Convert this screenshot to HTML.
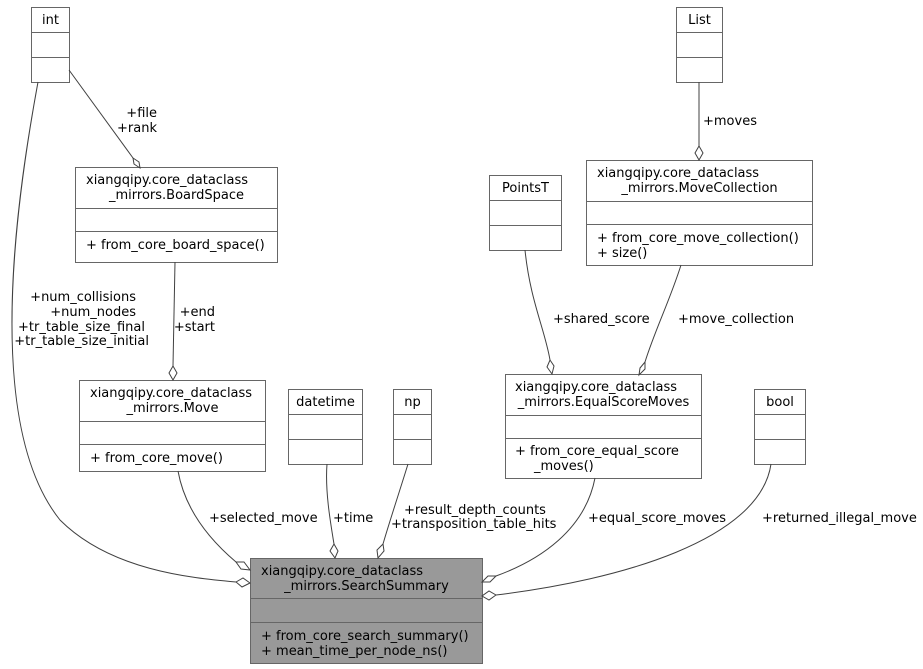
<!DOCTYPE html>
<html><head><meta charset="utf-8"><style>
html,body{margin:0;padding:0;background:#fff;}
svg{display:block;font-family:"DejaVu Sans","Liberation Sans",sans-serif;font-size:13px;}
</style></head><body>
<svg width="923" height="669" viewBox="0 0 923 669" xmlns="http://www.w3.org/2000/svg">
<g fill="#fff" stroke="#666" stroke-width="1">
<rect x="31.5" y="7.5" width="38" height="75"/><line x1="31.5" y1="32.5" x2="69.5" y2="32.5"/><line x1="31.5" y1="57.5" x2="69.5" y2="57.5"/>
<rect x="676.5" y="7.5" width="46" height="75"/><line x1="676.5" y1="32.5" x2="722.5" y2="32.5"/><line x1="676.5" y1="57.5" x2="722.5" y2="57.5"/>
<rect x="75.5" y="167.5" width="202" height="95"/><line x1="75.5" y1="208.5" x2="277.5" y2="208.5"/><line x1="75.5" y1="231.5" x2="277.5" y2="231.5"/>
<rect x="586.5" y="160.5" width="226" height="105"/><line x1="586.5" y1="201.5" x2="812.5" y2="201.5"/><line x1="586.5" y1="224.5" x2="812.5" y2="224.5"/>
<rect x="489.5" y="175.5" width="72" height="75"/><line x1="489.5" y1="200.5" x2="561.5" y2="200.5"/><line x1="489.5" y1="225.5" x2="561.5" y2="225.5"/>
<rect x="79.5" y="380.5" width="186" height="91"/><line x1="79.5" y1="421.5" x2="265.5" y2="421.5"/><line x1="79.5" y1="444.5" x2="265.5" y2="444.5"/>
<rect x="288.5" y="389.5" width="74" height="75"/><line x1="288.5" y1="414.5" x2="362.5" y2="414.5"/><line x1="288.5" y1="439.5" x2="362.5" y2="439.5"/>
<rect x="393.5" y="389.5" width="38" height="75"/><line x1="393.5" y1="414.5" x2="431.5" y2="414.5"/><line x1="393.5" y1="439.5" x2="431.5" y2="439.5"/>
<rect x="505.5" y="374.5" width="196" height="104"/><line x1="505.5" y1="415.5" x2="701.5" y2="415.5"/><line x1="505.5" y1="438.5" x2="701.5" y2="438.5"/>
<rect x="754.5" y="389.5" width="51" height="75"/><line x1="754.5" y1="414.5" x2="805.5" y2="414.5"/><line x1="754.5" y1="439.5" x2="805.5" y2="439.5"/>
<rect x="250.5" y="558.5" width="232" height="105" fill="#999"/><line x1="250.5" y1="598.5" x2="482.5" y2="598.5"/><line x1="250.5" y1="622.5" x2="482.5" y2="622.5"/>
</g>
<g fill="none" stroke="#404040" stroke-width="1">
<path d="M38,82 C20,180 -20,420 60,520 C110,570 190,578 236,582"/>
<path d="M69,70 L133,158"/>
<path d="M699,82 L699,146"/>
<path d="M175,262 L173,366"/>
<path d="M525,250 C530,300 545,330 550,360"/>
<path d="M681,265 C670,300 655,330 645,362"/>
<path d="M178,471 C185,510 210,540 236,562"/>
<path d="M327,464 C325,490 330,520 334,544"/>
<path d="M408,464 C400,490 390,520 383,544"/>
<path d="M595,478 C585,530 540,560 496,576"/>
<path d="M771,464 C760,540 620,580 496,595"/>
</g>
<g fill="#fff" stroke="#404040" stroke-width="1">
<polygon points="236,582 243,578 250,583 242,587"/>
<polygon points="236,562 244,562 250,570 241,569"/>
<polygon points="133,158 139,162 140,168 134,164"/>
<polygon points="699,146 703,153 699,160 695,153"/>
<polygon points="173,366 177,373 173,380 169,373"/>
<polygon points="550,360 554,366 552,374 547,367"/>
<polygon points="645,362 645,369 639,375 640,368"/>
<polygon points="334,544 338,551 335,558 330,551"/>
<polygon points="383,544 384,551 378,558 377,550"/>
<polygon points="496,576 490,582 482,582 488,576"/>
<polygon points="496,595 489,600 482,596 489,591"/>
</g>
<g fill="#000">
<text x="50.5" y="24" text-anchor="middle">int</text>
<text x="699.5" y="24" text-anchor="middle">List</text>
<text x="525.5" y="192" text-anchor="middle">PointsT</text>
<text x="325.5" y="406" text-anchor="middle">datetime</text>
<text x="412.5" y="406" text-anchor="middle">np</text>
<text x="780" y="406" text-anchor="middle">bool</text>
<text x="86" y="184">xiangqipy.core_dataclass</text>
<text x="176.5" y="199" text-anchor="middle">_mirrors.BoardSpace</text>
<text x="86" y="249">+ from_core_board_space()</text>
<text x="597" y="177">xiangqipy.core_dataclass</text>
<text x="699.5" y="192" text-anchor="middle">_mirrors.MoveCollection</text>
<text x="597" y="242">+ from_core_move_collection()</text>
<text x="597" y="257">+ size()</text>
<text x="90" y="397">xiangqipy.core_dataclass</text>
<text x="172.5" y="412" text-anchor="middle">_mirrors.Move</text>
<text x="90" y="462">+ from_core_move()</text>
<text x="515" y="391">xiangqipy.core_dataclass</text>
<text x="603.5" y="406" text-anchor="middle">_mirrors.EqualScoreMoves</text>
<text x="515" y="455">+ from_core_equal_score</text>
<text x="534" y="470">_moves()</text>
<text x="261" y="575">xiangqipy.core_dataclass</text>
<text x="366.5" y="590" text-anchor="middle">_mirrors.SearchSummary</text>
<text x="261" y="640">+ from_core_search_summary()</text>
<text x="261" y="655">+ mean_time_per_node_ns()</text>
<text x="157" y="117" text-anchor="end">+file</text>
<text x="157" y="132" text-anchor="end">+rank</text>
<text x="703" y="125">+moves</text>
<text x="215" y="316" text-anchor="end">+end</text>
<text x="215" y="331" text-anchor="end">+start</text>
<text x="136" y="301" text-anchor="end">+num_collisions</text>
<text x="136" y="316" text-anchor="end">+num_nodes</text>
<text x="145" y="331" text-anchor="end">+tr_table_size_final</text>
<text x="149" y="345" text-anchor="end">+tr_table_size_initial</text>
<text x="553" y="323">+shared_score</text>
<text x="678" y="323">+move_collection</text>
<text x="209" y="522">+selected_move</text>
<text x="333" y="522">+time</text>
<text x="404" y="514">+result_depth_counts</text>
<text x="391" y="528">+transposition_table_hits</text>
<text x="588" y="522">+equal_score_moves</text>
<text x="762" y="522">+returned_illegal_move</text>
</g>
</svg>
</body></html>
